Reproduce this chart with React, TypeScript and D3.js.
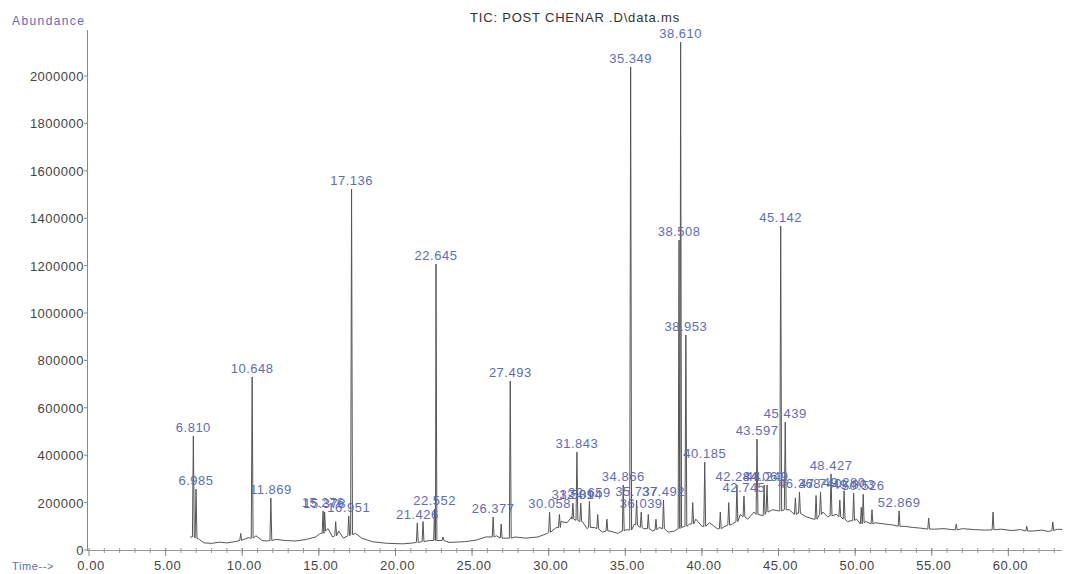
import React from "react";
import * as d3 from "d3";

// labelled peaks: retention time, apex abundance, foot abundance
const peakTimes = [6.81, 6.985, 10.648, 11.869, 15.276, 15.378, 16.951, 17.136, 21.426, 22.552, 22.645, 26.377, 27.493, 30.058, 31.581, 31.843, 32.094, 32.659, 34.866, 35.349, 35.737, 36.039, 37.492, 38.508, 38.61, 38.953, 40.185, 42.284, 42.745, 43.597, 44.061, 44.249, 45.142, 45.439, 46.368, 47.74, 48.427, 49.28, 49.903, 50.526, 52.869];
const peakTops = [481000, 257000, 730000, 219000, 165000, 160000, 143000, 1523000, 114000, 173000, 1207000, 139000, 713000, 160000, 198000, 413000, 198000, 205000, 274000, 2038000, 211000, 160000, 211000, 1308000, 2143000, 907000, 371000, 274000, 228000, 468000, 274000, 274000, 1367000, 540000, 245000, 245000, 321000, 250000, 240000, 235000, 165000];
const peakBases = [55000, 50000, 50000, 40000, 70000, 80000, 60000, 65000, 32000, 40000, 40000, 55000, 50000, 75000, 130000, 125000, 120000, 95000, 80000, 85000, 105000, 95000, 90000, 90000, 95000, 100000, 100000, 120000, 140000, 150000, 150000, 160000, 165000, 170000, 155000, 150000, 145000, 130000, 125000, 115000, 100000];

// small unlabelled peaks
const minorTimes = [9.9, 16.1, 21.8, 23.1, 26.9, 30.7, 33.2, 33.8, 36.5, 37.0, 39.4, 41.2, 41.75, 46.1, 47.45, 49.0, 50.4, 51.1, 54.8, 56.6, 59.0, 61.2, 62.9];
const minorTops = [70000, 120000, 120000, 55000, 110000, 150000, 150000, 130000, 150000, 130000, 200000, 160000, 200000, 220000, 230000, 210000, 180000, 170000, 135000, 110000, 160000, 100000, 118000];
const minorBases = [40000, 60000, 35000, 40000, 50000, 95000, 90000, 80000, 90000, 85000, 110000, 90000, 105000, 150000, 130000, 140000, 110000, 110000, 88000, 85000, 85000, 80000, 82000];

// baseline between peaks
const baseTimes = [6.6, 7.2, 7.5, 8.0, 8.5, 9.0, 9.5, 10.0, 10.4, 10.9, 11.3, 11.6, 12.2, 12.8, 13.5, 14.2, 14.8, 15.1, 15.6, 15.9, 16.3, 16.6, 17.4, 17.8, 18.5, 19.5, 20.5, 21.2, 21.7, 22.2, 22.9, 23.5, 24.5, 25.3, 25.9, 26.6, 27.0, 27.8, 28.5, 29.3, 29.9, 30.5, 30.8, 31.2, 31.5, 32.2, 32.5, 33.0, 33.5, 34.0, 34.5, 35.0, 35.6, 36.2, 36.8, 37.2, 37.8, 38.2, 39.2, 39.6, 40.0, 40.5, 41.0, 41.5, 42.0, 42.5, 43.0, 43.4, 44.0, 44.6, 45.0, 45.7, 46.2, 46.8, 47.3, 47.9, 48.2, 48.8, 49.5, 50.1, 50.7, 51.3, 51.9, 52.5, 53.2, 53.8, 54.3, 55.2, 55.8, 56.3, 57.0, 57.8, 58.5, 59.5, 60.2, 60.8, 61.6, 62.2, 62.6, 63.2, 63.5];
const baseValues = [55000, 45000, 30000, 28000, 33000, 30000, 35000, 42000, 52000, 60000, 40000, 38000, 45000, 40000, 38000, 45000, 55000, 70000, 90000, 55000, 80000, 50000, 70000, 50000, 35000, 28000, 26000, 30000, 35000, 40000, 40000, 32000, 35000, 42000, 55000, 60000, 50000, 55000, 50000, 55000, 70000, 95000, 120000, 115000, 140000, 120000, 90000, 95000, 75000, 80000, 70000, 85000, 110000, 90000, 80000, 95000, 75000, 80000, 110000, 130000, 100000, 115000, 90000, 100000, 110000, 150000, 130000, 160000, 145000, 170000, 165000, 170000, 155000, 140000, 130000, 160000, 140000, 150000, 120000, 130000, 120000, 115000, 110000, 105000, 100000, 95000, 92000, 88000, 90000, 86000, 90000, 86000, 84000, 88000, 82000, 86000, 80000, 84000, 78000, 88000, 86000];

const yTicks = [0, 200000, 400000, 600000, 800000, 1000000, 1200000, 1400000, 1600000, 1800000, 2000000];
const xTicks = [0, 5, 10, 15, 20, 25, 30, 35, 40, 45, 50, 55, 60];

const W = 1066;
const H = 574;
const halfWidth = 0.06;

export default function App() {
  const x = d3.scaleLinear().domain([0, 63.5]).range([89, 1062]);
  const y = d3.scaleLinear().domain([0, 2000000]).range([550, 76]);

  const pts: [number, number][] = baseTimes.map((t, i) => [t, baseValues[i]]);
  const addPeak = (t: number, top: number, base: number) => {
    pts.push([t - halfWidth, base], [t, top], [t + halfWidth, base]);
  };
  peakTimes.forEach((t, i) => addPeak(t, peakTops[i], peakBases[i]));
  minorTimes.forEach((t, i) => addPeak(t, minorTops[i], minorBases[i]));
  pts.sort((a, b) => a[0] - b[0]);

  const line = d3.line<[number, number]>().x(d => x(d[0])).y(d => y(d[1]));
  const minorX = d3.range(1, 64);

  const font = "'Liberation Sans', Arial, sans-serif";
  const blue = "#5e6db3";

  return (
    <svg width={W} height={H} style={{ position: "absolute", left: 0, top: 0, background: "#fff" }} fontFamily={font}>
      <text x={12} y={25} fontSize={12} fill={blue} letterSpacing={1.4}>Abundance</text>
      <text x={575} y={22} fontSize={13} fill="#333" textAnchor="middle" letterSpacing={0.8}>TIC: POST CHENAR .D\data.ms</text>

      {/* y axis */}
      <line x1={87.5} x2={87.5} y1={30} y2={551} stroke="#888" />
      {yTicks.map(v => (
        <g key={v}>
          <line x1={84} x2={87} y1={y(v)} y2={y(v)} stroke="#888" />
          <text x={84} y={y(v) + 5} fontSize={13} textAnchor="end" fill="#444" letterSpacing={0.5}>{v}</text>
        </g>
      ))}

      {/* x axis */}
      <line x1={87} x2={1062} y1={550.5} y2={550.5} stroke="#999" />
      {minorX.map(t => (
        <line key={t} x1={x(t)} x2={x(t)} y1={548} y2={553} stroke="#999" />
      ))}
      {xTicks.map(t => (
        <g key={t}>
          <line x1={x(t)} x2={x(t)} y1={548} y2={556} stroke="#888" />
          <text x={x(t) + 2} y={570} fontSize={13} textAnchor="middle" fill="#444" letterSpacing={0.5}>{t.toFixed(2)}</text>
        </g>
      ))}
      <text x={12} y={570} fontSize={11} fill={blue} letterSpacing={0.6}>Time--&gt;</text>

      <path d={line(pts) ?? ""} fill="none" stroke="#555" strokeWidth={1} />

      {peakTimes.map((t, i) => (
        <text key={t} x={x(t)} y={y(peakTops[i]) - 4} fontSize={13} textAnchor="middle" fill={blue} letterSpacing={0.5}>
          {t.toFixed(3)}
        </text>
      ))}
    </svg>
  );
}
